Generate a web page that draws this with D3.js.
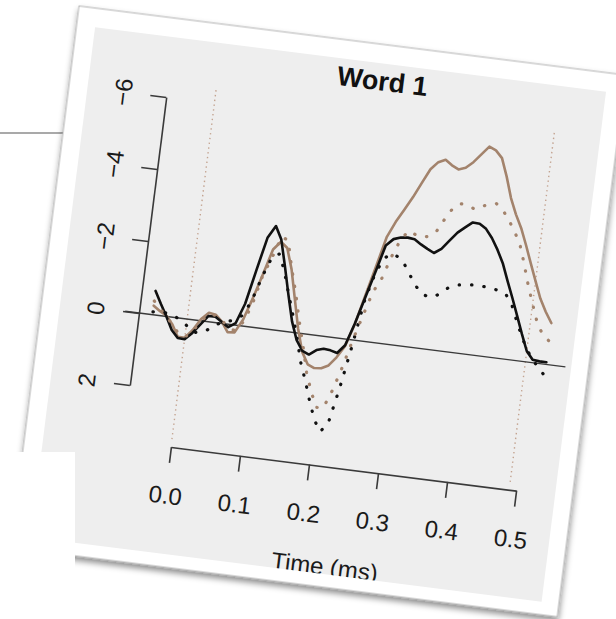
<!DOCTYPE html>
<html>
<head>
<meta charset="utf-8">
<script src="https://cdn.jsdelivr.net/npm/d3@7/dist/d3.min.js"></script>
<style>
  html, body { margin: 0; padding: 0; background: #ffffff; }
  svg { display: block; }
  text { font-family: "Liberation Sans", Arial, Helvetica, sans-serif; }
</style>
</head>
<body>
<svg id="chart" width="616" height="619"></svg>
<script>
// ---- data: grand-average waveforms, time in s, amplitude in µV (negative up) ----
const times = [
  -0.05, -0.04, -0.03, -0.02, -0.01,
  0.00, 0.01, 0.02, 0.03, 0.04, 0.05, 0.06, 0.07, 0.08, 0.09,
  0.10, 0.11, 0.12, 0.13, 0.14, 0.15, 0.16, 0.17, 0.18, 0.19,
  0.20, 0.21, 0.22, 0.23, 0.24, 0.25, 0.26, 0.27, 0.28, 0.29,
  0.30, 0.31, 0.32, 0.33, 0.34, 0.35, 0.36, 0.37, 0.38, 0.39,
  0.40, 0.41, 0.42, 0.43, 0.44, 0.45, 0.46, 0.47, 0.48, 0.49,
  0.50, 0.51, 0.52
];
const blackSolid = [
  -0.66, -0.32, 0.00, 0.35, 0.55,
  0.56, 0.36, 0.10, -0.16, -0.16, -0.04, 0.08, -0.06, -0.62, -1.58,
  -2.50, -2.85, -2.50, -1.78, -1.02, -0.30, 0.20, 0.47, 0.55, 0.40,
  0.34, 0.36, 0.41, 0.17, -0.46, -1.20, -1.94, -2.70, -2.90, -2.97,
  -2.99, -2.97, -2.85, -2.75, -2.66, -2.80, -3.05, -3.30, -3.47, -3.63,
  -3.62, -3.50, -3.27, -2.97, -2.62, -2.15, -1.70, -1.23, -0.75, -0.30,
  -0.08, -0.06, -0.06
];
const brownSolid = [
  -0.25, -0.12, -0.02, 0.20, 0.52,
  0.52, 0.28, -0.05, -0.25, -0.22, -0.05, 0.22, 0.20, -0.18, -0.80,
  -1.48, -2.20, -2.44, -2.29, -1.72, -0.92, -0.12, 0.50, 0.82, 0.90,
  0.88, 0.78, 0.53, 0.20, -0.44, -1.27, -2.10, -2.94, -3.38, -3.74,
  -4.11, -4.53, -4.94, -5.16, -5.25, -5.12, -5.03, -5.10, -5.28, -5.52,
  -5.76, -5.68, -5.49, -5.00, -4.43, -4.00, -3.64, -3.19, -2.71, -2.24,
  -1.78, -1.44, -1.15
];
const blackDotted = [
  -0.08, -0.09, -0.10, -0.06, 0.05,
  0.17, 0.34, 0.33, 0.24, 0.08, -0.03, -0.09, -0.15, -0.33, -0.80,
  -1.45, -1.99, -2.10, -1.65, -1.05, -0.48, 0.13, 0.80, 1.30, 1.85,
  2.33, 2.62, 2.35, 1.35, 0.17, -1.15, -1.90, -2.34, -2.50, -2.43,
  -2.25, -1.97, -1.70, -1.50, -1.44, -1.48, -1.66, -1.80, -1.87, -1.89,
  -1.92, -1.93, -1.91, -1.89, -1.85, -1.78, -1.53, -1.10, -0.69, -0.34,
  -0.08, 0.12, 0.32
];
const brownDotted = [
  -0.38, -0.18, 0.00, 0.20, 0.42,
  0.50, 0.30, 0.02, -0.22, -0.20, -0.09, 0.10, 0.15, -0.10, -0.60,
  -1.45, -1.97, -2.58, -2.50, -1.75, -1.10, -0.35, 0.33, 1.05, 1.56,
  1.97, 1.96, 1.45, 0.78, 0.00, -0.70, -1.38, -1.77, -2.40, -2.90,
  -3.18, -3.10, -3.05, -3.10, -3.27, -3.65, -3.98, -4.10, -4.08, -4.00,
  -4.10, -4.18, -4.23, -4.08, -3.85, -3.55, -3.25, -2.71, -2.12, -1.60,
  -1.10, -0.80, -0.65
];

const xTicks = [0.0, 0.1, 0.2, 0.3, 0.4, 0.5];
const xTickLabels = ["0.0", "0.1", "0.2", "0.3", "0.4", "0.5"];
const yTicks = [-6, -4, -2, 0, 2];
const yTickLabels = ["\u22126", "\u22124", "\u22122", "0", "2"];
const windowMarks = [0.0, 0.49];
const titleText = "Word 1";
const xTitleText = "Time (ms)";

// ---- styling ----
const BLACK = "#111111";
const BROWN = "#a3836c";
const WINDOW = "#c3a390";
const AXIS = "#3a3a3a";

const svg = d3.select("#chart");
const defs = svg.append("defs");

const shadow = defs.append("filter").attr("id", "paperShadow")
  .attr("x", "-10%").attr("y", "-10%").attr("width", "120%").attr("height", "120%");
shadow.append("feDropShadow")
  .attr("dx", 1).attr("dy", 4).attr("stdDeviation", 3)
  .attr("flood-color", "#000").attr("flood-opacity", 0.45);

// slide rule behind the print
svg.append("line")
  .attr("x1", 0).attr("x2", 90).attr("y1", 133).attr("y2", 133)
  .attr("stroke", "#8c8c8c").attr("stroke-width", 1.5);

// the tilted print
const frame = svg.append("g").attr("transform", "translate(79,6) rotate(7.2)");

frame.append("rect")
  .attr("x", 0).attr("y", 0).attr("width", 551).attr("height", 546)
  .attr("fill", "#ffffff").attr("stroke", "#a0a0a0").attr("stroke-width", 0.8)
  .attr("filter", "url(#paperShadow)");

const panel = { x: 18.6, y: 19, w: 515, h: 514 };
frame.append("rect")
  .attr("x", panel.x).attr("y", panel.y).attr("width", panel.w).attr("height", panel.h)
  .attr("fill", "#eeeeee");

defs.append("clipPath").attr("id", "panelClip")
  .append("rect")
  .attr("x", panel.x).attr("y", panel.y).attr("width", panel.w).attr("height", panel.h);

const plot = frame.append("g").attr("clip-path", "url(#panelClip)");

// scales (amplitude axis reversed: negative up)
const x = d3.scaleLinear().domain([0, 0.5]).range([146.5, 494.4]);
const y = d3.scaleLinear().domain([-6, 2]).range([79.4, 369.6]);
const xRegion = [-0.0897, 0.548];
const yRegion = [-6.36, 3.4];

// analysis window markers
plot.selectAll("line.window").data(windowMarks).join("line")
  .attr("class", "window")
  .attr("x1", d => x(d)).attr("x2", d => x(d))
  .attr("y1", y(yRegion[0])).attr("y2", y(yRegion[1]))
  .attr("stroke", WINDOW).attr("stroke-width", 1.4)
  .attr("stroke-dasharray", "1.4,3.4");

// zero line
plot.append("line")
  .attr("x1", x(xRegion[0])).attr("x2", x(xRegion[1]))
  .attr("y1", y(0)).attr("y2", y(0))
  .attr("stroke", AXIS).attr("stroke-width", 1.4);

// waveforms
const line = d3.line().x((d, i) => x(times[i])).y(d => y(d));
const series = [
  { values: brownSolid, color: BROWN, dotted: false },
  { values: blackSolid, color: BLACK, dotted: false },
  { values: blackDotted, color: BLACK, dotted: true },
  { values: brownDotted, color: BROWN, dotted: true }
];
series.forEach(s => {
  plot.append("path")
    .attr("d", line(s.values))
    .attr("fill", "none")
    .attr("stroke", s.color)
    .attr("stroke-width", s.dotted ? 3.2 : 2.6)
    .attr("stroke-linejoin", "round")
    .attr("stroke-linecap", "round")
    .attr("stroke-dasharray", s.dotted ? "0.4,12" : null);
});

// x axis
const xAxis = plot.append("g")
  .attr("transform", "translate(0,426)")
  .call(d3.axisBottom(x).tickValues(xTicks)
    .tickFormat((d, i) => xTickLabels[i])
    .tickSize(16).tickSizeOuter(0).tickPadding(24));
xAxis.select(".domain").attr("stroke", AXIS).attr("stroke-width", 1.6);
xAxis.selectAll(".tick line").attr("stroke", AXIS).attr("stroke-width", 1.6);
xAxis.selectAll(".tick text")
  .attr("font-size", 24).attr("fill", "#1a1a1a")
  .style("font-family", "'Liberation Sans', Arial, Helvetica, sans-serif");

// y axis (labels parallel to the axis)
const yAxis = plot.append("g")
  .attr("transform", "translate(98,0)")
  .call(d3.axisLeft(y).tickValues(yTicks)
    .tickFormat((d, i) => yTickLabels[i])
    .tickSize(16).tickSizeOuter(0));
yAxis.select(".domain").attr("stroke", AXIS).attr("stroke-width", 1.6);
yAxis.selectAll(".tick line").attr("stroke", AXIS).attr("stroke-width", 1.6);
yAxis.selectAll(".tick text")
  .attr("x", null).attr("dy", null)
  .attr("transform", "translate(-43.5,0) rotate(-90)")
  .attr("text-anchor", "middle")
  .attr("dominant-baseline", "central")
  .attr("font-size", 24).attr("fill", "#1a1a1a")
  .style("font-family", "'Liberation Sans', Arial, Helvetica, sans-serif");

// titles
plot.append("text")
  .attr("x", 310.5).attr("y", 46)
  .attr("text-anchor", "middle")
  .attr("font-size", 27).attr("font-weight", "bold").attr("fill", "#111")
  .text(titleText);

plot.append("text")
  .attr("x", 314).attr("y", 534)
  .attr("text-anchor", "middle")
  .attr("font-size", 24).attr("fill", "#1a1a1a")
  .text(xTitleText);

// white slide block overlapping the lower-left corner
svg.append("rect")
  .attr("x", 0).attr("y", 452).attr("width", 75).attr("height", 167)
  .attr("fill", "#ffffff");
</script>
</body>
</html>
